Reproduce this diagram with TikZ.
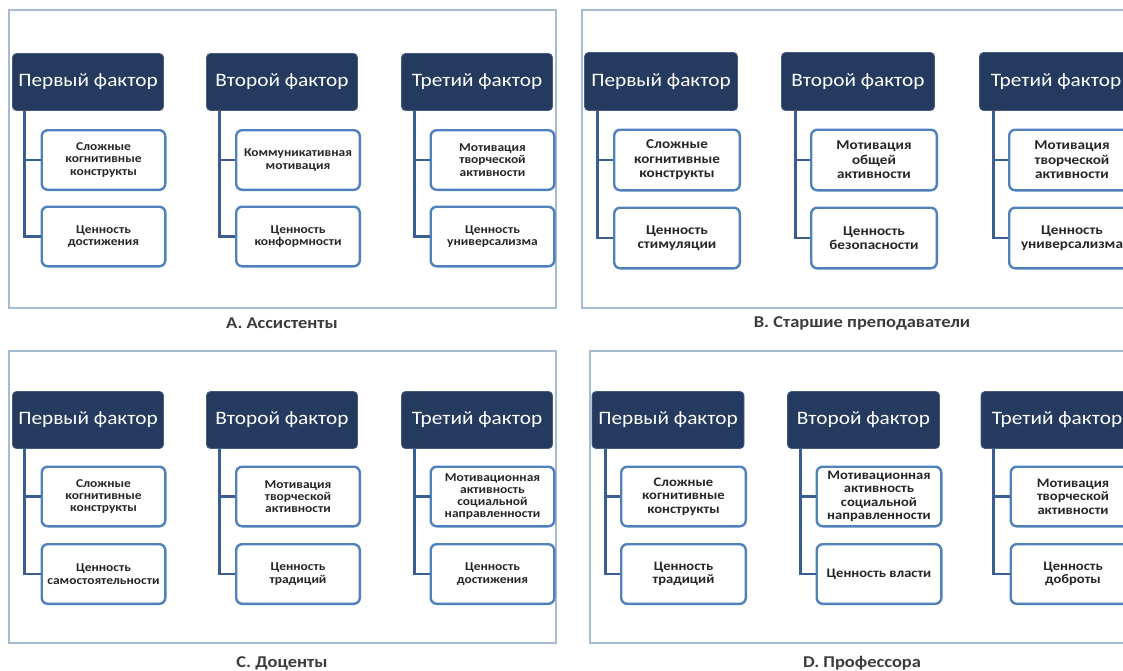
\documentclass[tikz,border=0pt]{standalone}
\usepackage{fontspec}
\newfontfamily\cfont[FakeStretch=1.12]{Carlito}

\definecolor{navy}{RGB}{36,58,94}
\definecolor{navyline}{RGB}{70,92,125}
\definecolor{boxblue}{RGB}{79,129,189}
\definecolor{connblue}{RGB}{56,94,146}
\definecolor{framegray}{RGB}{167,187,212}
\definecolor{txtgray}{RGB}{38,38,38}
\definecolor{captgray}{RGB}{60,60,60}

\tikzset{
  hdr/.style={fill=navy, draw=navyline, line width=0.8pt, rounded corners=4pt,
    text=white, font=\cfont\fontsize{19}{22}\selectfont,
    minimum width=151pt, minimum height=57pt, inner sep=0pt},
  cld/.style={draw=boxblue, line width=2.4pt, fill=white, rounded corners=6pt,
    align=center, text=txtgray, font=\cfont\bfseries\fontsize{12}{12.3}\selectfont,
    minimum width=123.6pt, minimum height=59.6pt, inner sep=0pt},
  conn/.style={draw=connblue, line width=2.8pt},
  panelframe/.style={draw=framegray, line width=1.2pt},
  capt/.style={text=captgray, font=\cfont\bfseries\fontsize{16.5}{18}\selectfont}
}

\begin{document}
\begin{tikzpicture}[x=1pt,y=-1pt]
\useasboundingbox (0,0) rectangle (1123,670);
\clip (0,0) rectangle (1123,670);

% A
\draw[panelframe] (9,10) rectangle (556,308);
\node[capt] (capA) at (282,323) {А. Ассистенты};
\node[hdr] (hA1) at (88,82) {Первый фактор};
\node[hdr] (hA2) at (282,82) {Второй фактор};
\node[hdr] (hA3) at (477,82) {Третий фактор};
\node[cld] (cA1a) at (103.5,160) {Сложные\\когнитивные\\конструкты};
\node[cld] (cA1b) at (103.5,236.5) {Ценность\\достижения};
\node[cld] (cA2a) at (298,160) {Коммуникативная\\мотивация};
\node[cld] (cA2b) at (298,236.5) {Ценность\\конформности};
\node[cld] (cA3a) at (492.5,160) {Мотивация\\творческой\\активности};
\node[cld] (cA3b) at (492.5,236.5) {Ценность\\универсализма};
\draw[conn] ([xshift=12]hA1.south west) |- (cA1b.west);
\draw[conn] ([xshift=12]hA1.south west) |- (cA1a.west);
\draw[conn] ([xshift=13]hA2.south west) |- (cA2b.west);
\draw[conn] ([xshift=13]hA2.south west) |- (cA2a.west);
\draw[conn] ([xshift=13]hA3.south west) |- (cA3b.west);
\draw[conn] ([xshift=13]hA3.south west) |- (cA3a.west);

% B
\begin{scope}[cld/.append style={font=\cfont\bfseries\fontsize{13.5}{14.5}\selectfont,
    minimum width=125.6pt, minimum height=60.6pt},
  hdr/.append style={minimum width=153pt, minimum height=58pt}]
\draw[panelframe] (582,10) rectangle (1140,308);
\node[capt] (capB) at (862,323) {В. Старшие преподаватели};
\node[hdr] (hB1) at (661,81.5) {Первый фактор};
\node[hdr] (hB2) at (858,81.5) {Второй фактор};
\node[hdr] (hB3) at (1056,81.5) {Третий фактор};
\node[cld] (cB1a) at (677,160) {Сложные\\когнитивные\\конструкты};
\node[cld] (cB1b) at (677,238) {Ценность\\стимуляции};
\node[cld] (cB2a) at (874,160) {Мотивация\\общей\\активности};
\node[cld] (cB2b) at (874,238) {Ценность\\безопасности};
\node[cld] (cB3a) at (1072,160) {Мотивация\\творческой\\активности};
\node[cld] (cB3b) at (1072,238) {Ценность\\универсализма};
\draw[conn] ([xshift=13]hB1.south west) |- (cB1b.west);
\draw[conn] ([xshift=13]hB1.south west) |- (cB1a.west);
\draw[conn] ([xshift=14]hB2.south west) |- (cB2b.west);
\draw[conn] ([xshift=14]hB2.south west) |- (cB2a.west);
\draw[conn] ([xshift=14]hB3.south west) |- (cB3b.west);
\draw[conn] ([xshift=14]hB3.south west) |- (cB3a.west);
\end{scope}

% C
\draw[panelframe] (9,351) rectangle (556,643);
\node[capt] (capC) at (282,663) {С. Доценты};
\node[hdr] (hC1) at (88,420) {Первый фактор};
\node[hdr] (hC2) at (282,420) {Второй фактор};
\node[hdr] (hC3) at (477,420) {Третий фактор};
\node[cld] (cC1a) at (103.5,496.5) {Сложные\\когнитивные\\конструкты};
\node[cld] (cC1b) at (103.5,574) {Ценность\\самостоятельности};
\node[cld] (cC2a) at (298,496.5) {Мотивация\\творческой\\активности};
\node[cld] (cC2b) at (298,574) {Ценность\\традиций};
\node[cld] (cC3a) at (492.5,496.5) {Мотивационная\\активность\\социальной\\направленности};
\node[cld] (cC3b) at (492.5,574) {Ценность\\достижения};
\draw[conn] ([xshift=12]hC1.south west) |- (cC1b.west);
\draw[conn] ([xshift=12]hC1.south west) |- (cC1a.west);
\draw[conn] ([xshift=13]hC2.south west) |- (cC2b.west);
\draw[conn] ([xshift=13]hC2.south west) |- (cC2a.west);
\draw[conn] ([xshift=13]hC3.south west) |- (cC3b.west);
\draw[conn] ([xshift=13]hC3.south west) |- (cC3a.west);

% D
\begin{scope}[cld/.append style={font=\cfont\bfseries\fontsize{13}{13.5}\selectfont,
    minimum width=124.6pt, minimum height=59.6pt},
  hdr/.append style={minimum width=152pt, minimum height=57pt}]
\draw[panelframe] (590,351) rectangle (1140,643);
\node[capt] (capD) at (862,663) {D. Профессора};
\node[hdr] (hD1) at (668,420) {Первый фактор};
\node[hdr] (hD2) at (863.5,420) {Второй фактор};
\node[hdr] (hD3) at (1057,420) {Третий фактор};
\node[cld] (cD1a) at (683.5,496.5) {Сложные\\когнитивные\\конструкты};
\node[cld] (cD1b) at (683.5,574) {Ценность\\традиций};
\node[cld] (cD2a) at (879,496.5) {Мотивационная\\активность\\социальной\\направленности};
\node[cld] (cD2b) at (879,574) {Ценность власти};
\node[cld] (cD3a) at (1073,496.5) {Мотивация\\творческой\\активности};
\node[cld] (cD3b) at (1073,574) {Ценность\\доброты};
\draw[conn] ([xshift=14]hD1.south west) |- (cD1b.west);
\draw[conn] ([xshift=14]hD1.south west) |- (cD1a.west);
\draw[conn] ([xshift=13]hD2.south west) |- (cD2b.west);
\draw[conn] ([xshift=13]hD2.south west) |- (cD2a.west);
\draw[conn] ([xshift=13]hD3.south west) |- (cD3b.west);
\draw[conn] ([xshift=13]hD3.south west) |- (cD3a.west);
\end{scope}
\end{tikzpicture}
\end{document}
